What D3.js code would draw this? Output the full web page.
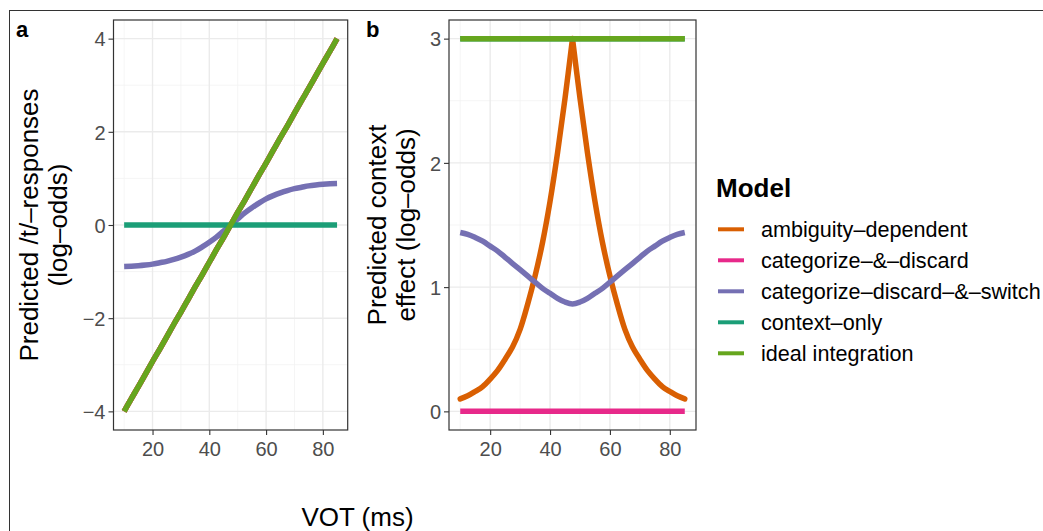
<!DOCTYPE html>
<html><head><meta charset="utf-8">
<script src="https://cdn.jsdelivr.net/npm/d3@7"></script>
<style>
html,body{margin:0;padding:0;background:#fff;}
svg{display:block;font-family:"Liberation Sans",Arial,Helvetica,sans-serif;}
</style></head>
<body>
<svg id="chart" width="1043" height="531"></svg>
<script>
// ---- data ----
const models = ["ambiguity\u2013dependent","categorize\u2013&\u2013discard","categorize\u2013discard\u2013&\u2013switch","context\u2013only","ideal integration"];
const modelColors = ["#D95F02","#E7298A","#7570B3","#1B9E77","#66A61E"];
const vot = [10,12.5,15,17.5,20,22.5,25,27.5,30,32.5,35,37.5,40,42.5,45,47.5,50,52.5,55,57.5,60,62.5,65,67.5,70,72.5,75,77.5,80,82.5,85];
// panel a: predicted /t/-responses (log-odds)
const aIdeal = [-4,-3.73,-3.47,-3.2,-2.93,-2.67,-2.4,-2.13,-1.87,-1.6,-1.33,-1.07,-0.8,-0.53,-0.27,0,0.27,0.53,0.8,1.07,1.33,1.6,1.87,2.13,2.4,2.67,2.93,3.2,3.47,3.73,4];
const aAmbiguity = aIdeal.slice();
const aDiscard = aIdeal.slice();
const aSwitch = [-0.89,-0.885,-0.875,-0.86,-0.84,-0.81,-0.78,-0.74,-0.69,-0.63,-0.56,-0.47,-0.37,-0.26,-0.13,0,0.13,0.26,0.37,0.47,0.56,0.63,0.69,0.74,0.78,0.81,0.84,0.86,0.875,0.885,0.89];
const aContext = [0,0,0,0,0,0,0,0,0,0,0,0,0,0,0,0,0,0,0,0,0,0,0,0,0,0,0,0,0,0,0];
// panel b: predicted context effect (log-odds)
const bAmbiguity = [0.10,0.125,0.16,0.20,0.26,0.33,0.42,0.52,0.66,0.86,1.09,1.36,1.69,2.08,2.52,3.0,2.52,2.08,1.69,1.36,1.09,0.86,0.66,0.52,0.42,0.33,0.26,0.20,0.16,0.125,0.10];
const bDiscard = [0,0,0,0,0,0,0,0,0,0,0,0,0,0,0,0,0,0,0,0,0,0,0,0,0,0,0,0,0,0,0];
const bSwitch = [1.44,1.425,1.40,1.37,1.33,1.29,1.24,1.19,1.14,1.09,1.04,0.99,0.95,0.91,0.88,0.865,0.88,0.91,0.95,0.99,1.04,1.09,1.14,1.19,1.24,1.29,1.33,1.37,1.40,1.425,1.44];
const bContext = [3,3,3,3,3,3,3,3,3,3,3,3,3,3,3,3,3,3,3,3,3,3,3,3,3,3,3,3,3,3,3];
const bIdeal = [3,3,3,3,3,3,3,3,3,3,3,3,3,3,3,3,3,3,3,3,3,3,3,3,3,3,3,3,3,3,3];
const xTicks = [20,40,60,80];
const aYTicks = [-4,-2,0,2,4];
const bYTicks = [0,1,2,3];

// ---- drawing ----
const svg = d3.select("#chart");
const FONT = '"Liberation Sans",Arial,Helvetica,sans-serif';

// outer frame
svg.append("rect").attr("x",9.5).attr("y",10.5).attr("width",1100).attr("height",600)
  .attr("fill","none").attr("stroke","#333").attr("stroke-width",1);

function panel(opts){
  const {x0,x1,y0,y1,yDomain,yTicks,yMinor,series,label,labelX,yTitle,yTitleX} = opts;
  const x = d3.scaleLinear().domain([6.25,88.75]).range([x0,x1]);
  const y = d3.scaleLinear().domain(yDomain).range([y1,y0]);
  const g = svg.append("g");
  const clipId = "clip"+label;
  svg.append("clipPath").attr("id",clipId).append("rect")
    .attr("x",x0).attr("y",y0).attr("width",x1-x0).attr("height",y1-y0);
  // minor grid
  const xMinor = [10,30,50,70];
  g.selectAll(".xm").data(xMinor).join("line")
    .attr("x1",d=>x(d)).attr("x2",d=>x(d)).attr("y1",y0).attr("y2",y1)
    .attr("stroke","#f2f2f2").attr("stroke-width",0.8);
  g.selectAll(".ym").data(yMinor).join("line")
    .attr("x1",x0).attr("x2",x1).attr("y1",d=>y(d)).attr("y2",d=>y(d))
    .attr("stroke","#f2f2f2").attr("stroke-width",0.8);
  // major grid
  g.selectAll(".xg").data(xTicks).join("line")
    .attr("x1",d=>x(d)).attr("x2",d=>x(d)).attr("y1",y0).attr("y2",y1)
    .attr("stroke","#ebebeb").attr("stroke-width",1.4);
  g.selectAll(".yg").data(yTicks).join("line")
    .attr("x1",x0).attr("x2",x1).attr("y1",d=>y(d)).attr("y2",d=>y(d))
    .attr("stroke","#ebebeb").attr("stroke-width",1.4);
  // lines
  const lg = g.append("g").attr("clip-path",`url(#${clipId})`);
  series.forEach(s=>{
    const pts = s.values.map((v,i)=>[vot[i],v]);
    const line = d3.line().x(d=>x(d[0])).y(d=>y(d[1])).curve(d3.curveCatmullRom.alpha(0.5));
    const parts = s.split!=null ? [pts.slice(0,s.split+1), pts.slice(s.split)] : [pts];
    parts.forEach(p=>{
      lg.append("path").datum(p).attr("d",line)
        .attr("fill","none").attr("stroke",s.color).attr("stroke-width",5.5)
        .attr("stroke-linejoin","round").attr("stroke-linecap",s.split!=null?"round":"butt");
    });
  });
  // border
  g.append("rect").attr("x",x0).attr("y",y0).attr("width",x1-x0).attr("height",y1-y0)
    .attr("fill","none").attr("stroke","#333").attr("stroke-width",1.2);
  // axes
  const xa = d3.axisBottom(x).tickValues(xTicks).tickSize(5).tickPadding(4);
  const xg = g.append("g").attr("transform",`translate(0,${y1})`).call(xa);
  const ya = d3.axisLeft(y).tickValues(yTicks).tickSize(5).tickPadding(3).tickFormat(d=>d<0?"\u2212"+Math.abs(d):d);
  const yg = g.append("g").attr("transform",`translate(${x0},0)`).call(ya);
  [xg,yg].forEach(a=>{
    a.select(".domain").remove();
    a.selectAll(".tick line").attr("stroke","#333").attr("stroke-width",1.1);
    a.selectAll(".tick text").attr("fill","#4d4d4d").attr("font-size","20px").attr("font-family",FONT);
  });
  xg.selectAll(".tick text").attr("dy",null).attr("y",26);
  yg.selectAll(".tick text").attr("dy","0.36em");
  // panel label
  svg.append("text").attr("x",labelX).attr("y",37).attr("font-weight","bold")
    .attr("font-size","22px").attr("font-family",FONT).text(label);
  // y title
  const t = svg.append("text").attr("transform",`translate(${yTitleX},${(y0+y1)/2}) rotate(-90)`)
    .attr("text-anchor","middle").attr("font-size","26px").attr("font-family",FONT).attr("fill","#000");
  t.append("tspan").attr("x",0).attr("y",0).text(yTitle[0]);
  t.append("tspan").attr("x",0).attr("y",29).text(yTitle[1]);
}

panel({
  x0:113.5,x1:347.7,y0:20,y1:430,yDomain:[-4.4,4.4],yTicks:aYTicks,yMinor:[-3,-1,1,3],
  series:[
    {values:aAmbiguity,color:modelColors[0]},
    {values:aDiscard,color:modelColors[1]},
    {values:aSwitch,color:modelColors[2]},
    {values:aContext,color:modelColors[3]},
    {values:aIdeal,color:modelColors[4]}
  ],
  label:"a",labelX:16,yTitle:["Predicted /t/\u2013responses","(log\u2013odds)"],yTitleX:38
});
panel({
  x0:449,x1:696,y0:20,y1:430,yDomain:[-0.15,3.15],yTicks:bYTicks,yMinor:[0.5,1.5,2.5],
  series:[
    {values:bAmbiguity,color:modelColors[0],split:15},
    {values:bDiscard,color:modelColors[1]},
    {values:bSwitch,color:modelColors[2]},
    {values:bContext,color:modelColors[3]},
    {values:bIdeal,color:modelColors[4]}
  ],
  label:"b",labelX:366,yTitle:["Predicted context","effect (log\u2013odds)"],yTitleX:386
});

// x title
svg.append("text").attr("x",357.5).attr("y",526).attr("text-anchor","middle")
  .attr("font-size","26px").attr("font-family",FONT).text("VOT (ms)");

// legend
const leg = svg.append("g");
leg.append("text").attr("x",716).attr("y",197).attr("font-weight","bold")
  .attr("font-size","26px").attr("font-family",FONT).text("Model");
const rowY = d3.scaleLinear().domain([0,4]).range([229.3,353.3]);
models.forEach((m,i)=>{
  leg.append("line").attr("x1",718).attr("x2",744).attr("y1",rowY(i)).attr("y2",rowY(i))
    .attr("stroke",modelColors[i]).attr("stroke-width",4);
  leg.append("text").attr("x",761).attr("y",rowY(i)).attr("dy","0.36em")
    .attr("font-size","21.6px").attr("font-family",FONT).text(m);
});
</script>
</body></html>
